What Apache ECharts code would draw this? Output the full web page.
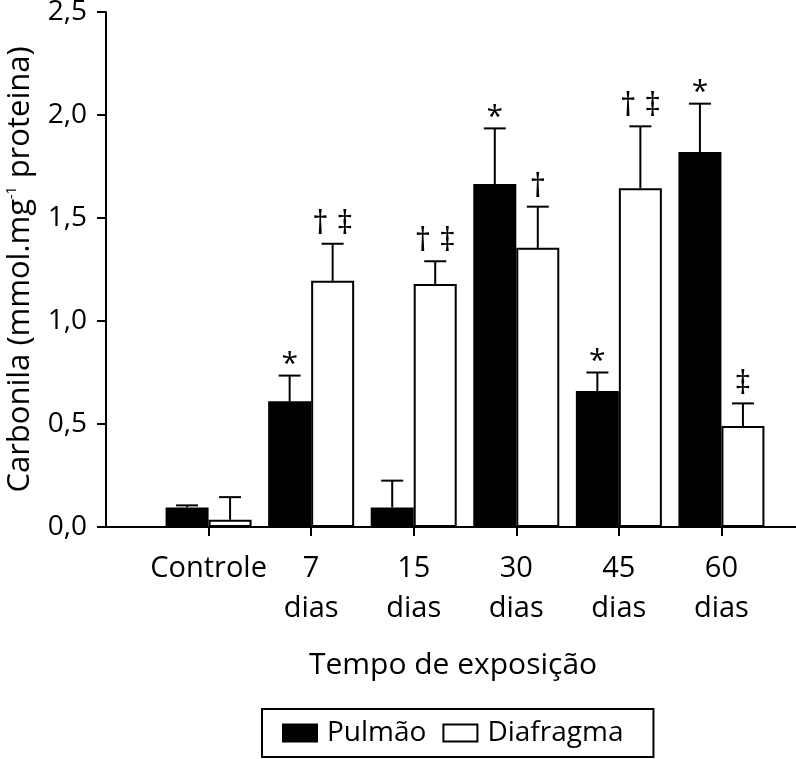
<!DOCTYPE html>
<html>
<head>
<meta charset="utf-8">
<script src="https://cdn.jsdelivr.net/npm/echarts@6/dist/echarts.min.js"></script>
<style>
html,body{margin:0;padding:0;background:#fff;}
#chart{width:796px;height:759px;}
</style>
</head>
<body>
<div id="chart"></div>
<script>
// Categories (first and last slots are empty padding slots on the axis)
const categories = ['', 'Controle', '7\ndias', '15\ndias', '30\ndias', '45\ndias', '60\ndias', ''];
const seriesNames = ['Pulmão', 'Diafragma'];
const pulmao      = [null, 0.095, 0.61, 0.095, 1.665, 0.66, 1.82, null];
const pulmaoErr   = [null, 0.01, 0.125, 0.13, 0.27, 0.09, 0.235, null];
const diafragma    = [null, 0.035, 1.195, 1.18, 1.355, 1.645, 0.49, null];
const diafragmaErr = [null, 0.11, 0.18, 0.11, 0.2, 0.3, 0.11, null];
const pulmaoMarks    = ['', '', '*', '', '*', '*', '*', ''];
const diafragmaMarks = ['', '', '† ‡', '† ‡', '†', '† ‡', '‡', ''];

const FONT = 'Open Sans';
const BAR_W = 43;

function errData(vals, errs, marks) {
  const out = [];
  vals.forEach((v, i) => { if (v !== null) out.push([i, v, errs[i], marks[i]]); });
  return out;
}

function makeErrRender(side, marks) {
  return function (params, api) {
    const i = api.value(0), v = api.value(1), e = api.value(2);
    const p0 = api.coord([i, v]);
    const p1 = api.coord([i, v + e]);
    const x = p0[0] + side * BAR_W / 2;
    const children = [
      { type: 'line', shape: { x1: x, y1: p0[1], x2: x, y2: p1[1] }, style: { stroke: '#000', lineWidth: 2 } },
      { type: 'line', shape: { x1: x - 11, y1: p1[1], x2: x + 11, y2: p1[1] }, style: { stroke: '#000', lineWidth: 2 } }
    ];
    const m = marks[i];
    if (m) {
      const isStar = m === '*';
      children.push({
        type: 'text',
        style: {
          text: m, x: x, y: p1[1] - (isStar ? -4 : 3),
          align: 'center', verticalAlign: 'bottom',
          fontFamily: FONT, fontSize: isStar ? 30 : 32, fill: '#000'
        }
      });
    }
    return { type: 'group', children: children };
  };
}

const chart = echarts.init(document.getElementById('chart'), null, { renderer: 'canvas' });
chart.setOption({
  animation: false,
  backgroundColor: '#fff',
  textStyle: { fontFamily: FONT, color: '#000' },
  grid: { left: 106, top: 12, width: 718, bottom: 232, containLabel: false, outerBoundsMode: 'none' },
  legend: {
    left: 262, top: 709,
    data: seriesNames,
    icon: 'rect',
    itemWidth: 34, itemHeight: 17, itemGap: 16,
    padding: [10, 30, 10, 20],
    borderColor: '#000', borderWidth: 2,
    textStyle: { fontFamily: FONT, fontSize: 28, color: '#000', padding: [0, 0, 0, 5] },
    selectedMode: false
  },
  xAxis: {
    type: 'category',
    data: categories,
    boundaryGap: false,
    name: 'Tempo de exposição',
    nameLocation: 'middle',
    nameGap: 123,
    nameTextStyle: { fontFamily: FONT, fontSize: 30, color: '#000', padding: [0, 24, 0, 0] },
    axisLine: { lineStyle: { color: '#000', width: 2 } },
    axisTick: { length: 9, lineStyle: { color: '#000', width: 2 }, interval: function (idx) { return idx > 0 && idx < categories.length - 1; } },
    axisLabel: { interval: 0, margin: 22, fontFamily: FONT, fontSize: 29, color: '#000', lineHeight: 40 },
    splitLine: { show: false }
  },
  yAxis: {
    type: 'value',
    min: 0, max: 2.5, interval: 0.5,
    name: 'Carbonila (mmol.mg{sup|-1} proteina)',
    nameLocation: 'middle',
    nameGap: 70,
    nameTextStyle: {
      fontFamily: FONT, fontSize: 31, color: '#000',
      rich: { sup: { fontFamily: FONT, fontSize: 14, color: '#000', verticalAlign: 'top', padding: [0, 0, 14, 0] } }
    },
    axisLine: { show: true, lineStyle: { color: '#000', width: 2 } },
    axisTick: { show: true, length: 9, lineStyle: { color: '#000', width: 2 } },
    axisLabel: {
      margin: 19, fontFamily: FONT, fontSize: 28, color: '#000',
      formatter: function (v) { return v.toFixed(1).replace('.', ','); }
    },
    splitLine: { show: false }
  },
  series: [
    {
      name: seriesNames[0], type: 'bar', data: pulmao,
      barWidth: BAR_W, barGap: '0%',
      itemStyle: { color: '#000', borderColor: '#000', borderWidth: 2 }
    },
    {
      name: seriesNames[1], type: 'bar', data: diafragma,
      barWidth: BAR_W, barGap: '0%',
      itemStyle: { color: '#fff', borderColor: '#000', borderWidth: 2 }
    },
    {
      type: 'custom', name: 'errP', z: 5,
      renderItem: makeErrRender(-1, pulmaoMarks),
      data: errData(pulmao, pulmaoErr, pulmaoMarks),
      encode: { x: 0, y: 1 }
    },
    {
      type: 'custom', name: 'errD', z: 5,
      renderItem: makeErrRender(1, diafragmaMarks),
      data: errData(diafragma, diafragmaErr, diafragmaMarks),
      encode: { x: 0, y: 1 }
    }
  ]
});
</script>
</body>
</html>
